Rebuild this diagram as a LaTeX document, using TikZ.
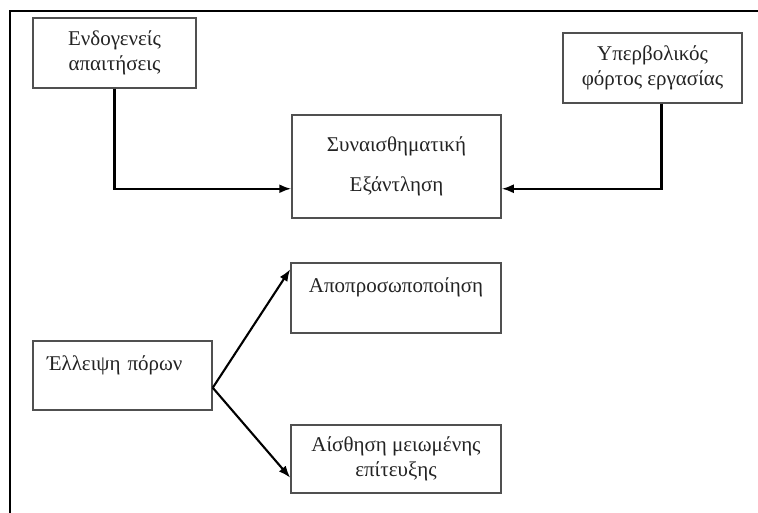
\documentclass[tikz,border=0pt]{standalone}
\usepackage{fontspec}
\setmainfont{Liberation Serif}
\usetikzlibrary{arrows.meta}
\definecolor{boxgray}{RGB}{80,80,80}
\definecolor{txtgray}{RGB}{35,35,35}
\begin{document}
\begin{tikzpicture}[x=1pt,y=-1pt,
		box/.style={draw=boxgray,line width=1.5pt,text=txtgray,align=center,inner sep=0pt,font=\fontsize{21}{25}\selectfont},
		arr/.style={line width=2.1pt,-{Latex[length=12pt,width=9pt]}}]
				\useasboundingbox (0,0) rectangle (758,513);
				\draw[line width=2.8pt] (10,513)--(10,11)--(758,11);
				\node[box,minimum width=163pt,minimum height=70pt,name=B1] at (114.5,53) {Ενδογενείς\\απαιτήσεις};
				\node[box,minimum width=209pt,minimum height=103pt,name=B2] at (396.5,166.5) {Συναισθηματική\\[15pt]Εξάντληση};
				\node[box,minimum width=179pt,minimum height=70pt,name=B3] at (652.5,68) {Υπερβολικός\\φόρτος εργασίας};
				\node[box,minimum width=210pt,minimum height=70pt,name=B4] at (396,298) {Αποπροσωποποίηση\\\mbox{}};
				\node[box,text width=151pt,inner xsep=14pt,align=left,minimum height=69pt,name=B5] at (122.5,375.5) {Έλλειψη πόρων\\\mbox{}};
				\node[box,minimum width=210pt,minimum height=68pt,name=B6] at (396,459) {Αίσθηση μειωμένης\\επίτευξης};
				\draw[arr] (B1.south) |- ([yshift=30pt]B2.south west);
				\draw[arr] ([xshift=9pt]B3.south) |- ([yshift=30pt]B2.south east);
				\draw[arr] ([yshift=23pt]B5.south east) -- ([yshift=-7pt]B4.north west);
				\draw[arr] ([yshift=23pt]B5.south east) -- ([yshift=16pt]B6.south west);
\end{tikzpicture}
\end{document}
